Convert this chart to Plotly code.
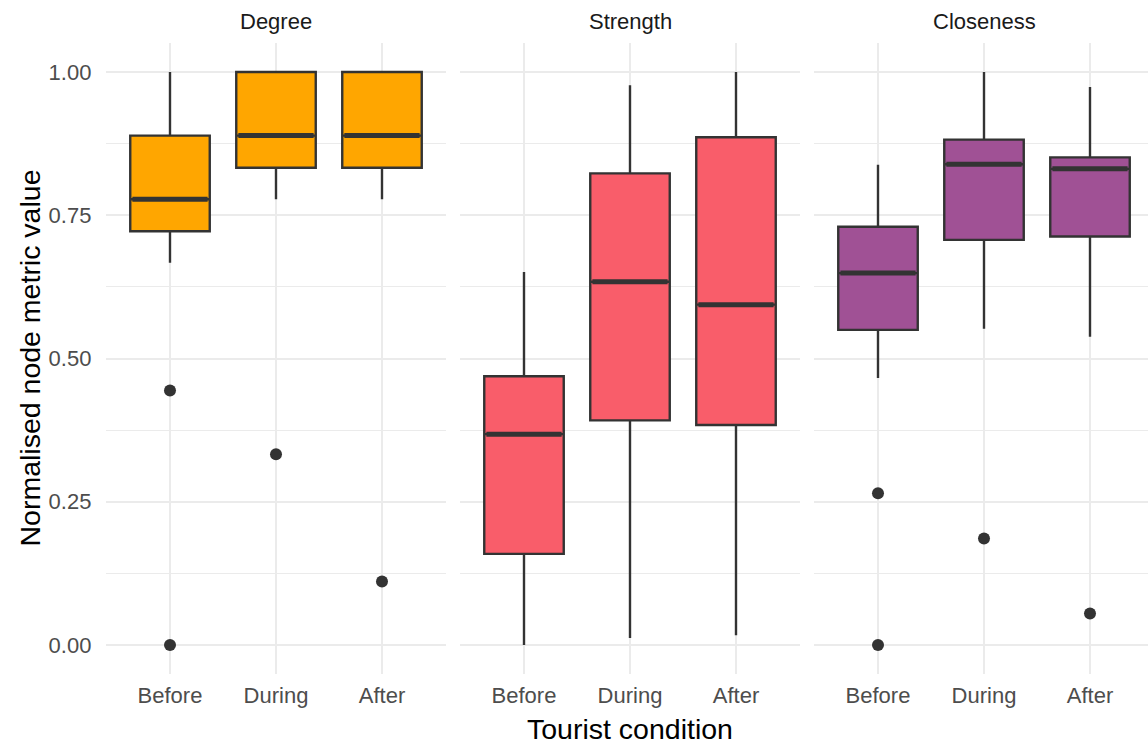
import plotly.graph_objects as go

# Facets, x categories and axis ticks
metrics = ["Degree", "Strength", "Closeness"]
conditions = ["Before", "During", "After"]
y_ticks = [0.0, 0.25, 0.5, 0.75, 1.0]
y_tick_labels = ["0.00", "0.25", "0.50", "0.75", "1.00"]

# Box statistics per metric (Before, During, After)
degree_low = [0.667, 0.778, 0.778]
degree_q1 = [0.722, 0.833, 0.833]
degree_median = [0.778, 0.889, 0.889]
degree_q3 = [0.889, 1.0, 1.0]
degree_high = [1.0, 1.0, 1.0]
degree_outliers = [[0.444, 0.0], [0.333], [0.111]]

strength_low = [0.0, 0.012, 0.017]
strength_q1 = [0.159, 0.392, 0.384]
strength_median = [0.368, 0.634, 0.594]
strength_q3 = [0.469, 0.823, 0.886]
strength_high = [0.651, 0.977, 1.0]
strength_outliers = [[], [], []]

closeness_low = [0.466, 0.552, 0.538]
closeness_q1 = [0.550, 0.707, 0.713]
closeness_median = [0.649, 0.839, 0.831]
closeness_q3 = [0.730, 0.882, 0.851]
closeness_high = [0.838, 1.0, 0.974]
closeness_outliers = [[0.265, 0.0], [0.186], [0.055]]

fill_colors = ["#ffa600", "#f95d6a", "#a05195"]

stats = {
    "Degree": (degree_low, degree_q1, degree_median, degree_q3, degree_high, degree_outliers),
    "Strength": (strength_low, strength_q1, strength_median, strength_q3, strength_high, strength_outliers),
    "Closeness": (closeness_low, closeness_q1, closeness_median, closeness_q3, closeness_high, closeness_outliers),
}

W, H = 1148, 749
EDGE = "#333333"
GRID = "#ebebeb"
FONT = "Liberation Sans, Arial, sans-serif"
BOX_W = 0.75

# Panel geometry in pixels
unit_px = 106.0
panel_left = [106.4, 460.4, 814.4]
panel_w = 3.2 * unit_px
plot_top, plot_bottom = 43.35, 673.65

fig = go.Figure()

for k, m in enumerate(metrics):
    lo, q1, med, q3, hi, outs = stats[m]
    xa = "x" if k == 0 else f"x{k + 1}"
    ya = "y" if k == 0 else f"y{k + 1}"
    for i, cond in enumerate(conditions):
        pos = i + 1
        fig.add_trace(go.Box(
            x=[pos], q1=[q1[i]], median=[med[i]], q3=[q3[i]],
            lowerfence=[lo[i]], upperfence=[hi[i]],
            width=BOX_W, whiskerwidth=0,
            fillcolor=fill_colors[k],
            line=dict(color=EDGE, width=2.4),
            boxpoints=False, showlegend=False, hoverinfo="skip",
            xaxis=xa, yaxis=ya,
        ))
        # thicker median bar
        fig.add_trace(go.Scatter(
            x=[pos - BOX_W / 2 + 0.02, pos + BOX_W / 2 - 0.02], y=[med[i], med[i]],
            mode="lines", line=dict(color=EDGE, width=5),
            showlegend=False, hoverinfo="skip", xaxis=xa, yaxis=ya,
        ))
        if outs[i]:
            fig.add_trace(go.Scatter(
                x=[pos] * len(outs[i]), y=outs[i], mode="markers",
                marker=dict(color=EDGE, size=12),
                showlegend=False, hoverinfo="skip", xaxis=xa, yaxis=ya,
            ))

y_domain = [1 - plot_bottom / H, 1 - plot_top / H]
layout = dict(
    width=W, height=H,
    margin=dict(l=0, r=0, t=0, b=0, pad=0),
    paper_bgcolor="white", plot_bgcolor="white",
    font=dict(family=FONT),
    showlegend=False,
)

for k, m in enumerate(metrics):
    x0 = panel_left[k]
    x1 = min(x0 + panel_w, W)
    right_val = 0.4 + (x1 - x0) / unit_px
    xkey = "xaxis" if k == 0 else f"xaxis{k + 1}"
    ykey = "yaxis" if k == 0 else f"yaxis{k + 1}"
    layout[xkey] = dict(
        domain=[x0 / W, x1 / W], range=[0.4, right_val],
        tickvals=[1, 2, 3], ticktext=conditions,
        showgrid=True, gridcolor=GRID, gridwidth=2.2,
        zeroline=False, showline=False, ticks="",
        tickfont=dict(family=FONT, size=22, color="#4d4d4d"),
        ticklabelstandoff=6, automargin=False, fixedrange=True,
        anchor="y" if k == 0 else f"y{k + 1}",
    )
    layout[ykey] = dict(
        domain=y_domain, range=[-0.05, 1.05],
        tickvals=y_ticks, ticktext=y_tick_labels,
        showticklabels=(k == 0),
        showgrid=True, gridcolor=GRID, gridwidth=2.2,
        minor=dict(dtick=0.125, tick0=0, showgrid=True, gridcolor=GRID, gridwidth=1.3),
        zeroline=False, showline=False, ticks="",
        tickfont=dict(family=FONT, size=22, color="#4d4d4d"),
        ticklabelstandoff=14, automargin=False, fixedrange=True,
        anchor="x" if k == 0 else f"x{k + 1}",
    )

annotations = []
for k, m in enumerate(metrics):
    cx = panel_left[k] + panel_w / 2
    annotations.append(dict(
        text=m, x=cx / W, y=1 - 21 / H, xref="paper", yref="paper",
        showarrow=False, xanchor="center", yanchor="middle",
        font=dict(family=FONT, size=22, color="#1a1a1a"),
    ))
annotations.append(dict(
    text="Tourist condition", x=(panel_left[0] + panel_left[2] + panel_w) / 2 / W,
    y=1 - 729 / H, xref="paper", yref="paper", showarrow=False,
    xanchor="center", yanchor="middle",
    font=dict(family=FONT, size=28.5, color="black"),
))
annotations.append(dict(
    text="Normalised node metric value", x=29 / W,
    y=1 - (plot_top + plot_bottom) / 2 / H, xref="paper", yref="paper",
    showarrow=False, textangle=-90, xanchor="center", yanchor="middle",
    font=dict(family=FONT, size=28.5, color="black"),
))
layout["annotations"] = annotations

fig.update_layout(**layout)
fig.write_html("out.html", config=dict(displayModeBar=False))
